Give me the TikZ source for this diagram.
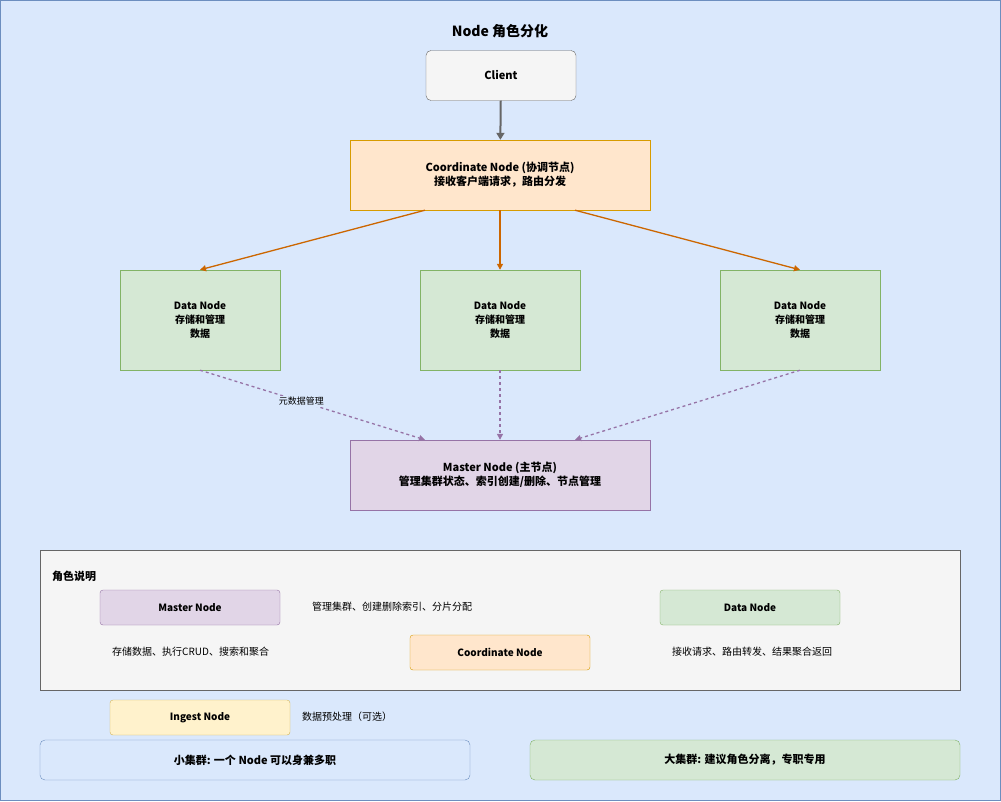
\documentclass[tikz,border=0pt]{standalone}
\usepackage{fontspec}
\setmainfont{Noto Sans CJK SC}
\usetikzlibrary{arrows.meta}
\begin{document}
\begin{tikzpicture}[x=1pt,y=-1pt,
 box/.style={draw,align=center,inner sep=0pt,font=\fontsize{11}{14}\selectfont\bfseries},
 lbl/.style={anchor=west,inner sep=0pt,font=\fontsize{10}{12}\selectfont},
 solidarr/.style={draw=orange!80!black,line width=1.3pt,-{Triangle[length=6pt,width=6pt]}},
 dasharr/.style={draw=purpleC,line width=1.3pt,dashed,-{Triangle[length=6pt,width=6pt]}}]
\definecolor{bgB}{HTML}{DAE8FC}\definecolor{bdB}{HTML}{6C8EBF}
\definecolor{fG}{HTML}{F5F5F5}\definecolor{bG}{HTML}{666666}
\definecolor{fO}{HTML}{FFE6CC}\definecolor{bO}{HTML}{D79B00}
\definecolor{fGr}{HTML}{D5E8D4}\definecolor{bGr}{HTML}{82B366}
\definecolor{fP}{HTML}{E1D5E7}\definecolor{purpleC}{HTML}{9673A6}
\definecolor{fY}{HTML}{FFF2CC}\definecolor{bY}{HTML}{D6B656}
\useasboundingbox (0,0) rectangle (1001,801);
\fill[bgB] (0,0) rectangle (1001,801);
\draw[bdB] (0.5,0.5) rectangle (1000.5,800.5);
\node[font=\fontsize{14}{16}\selectfont\bfseries] (title) at (500,31) {Node 角色分化};
\node[box,fill=fG,draw=bG,rounded corners=5pt,minimum width=150pt,minimum height=50pt] (client) at (501,75.5) {Client};
\node[box,fill=fO,draw=bO,minimum width=300pt,minimum height=70pt] (coord) at (500,175) {Coordinate Node (协调节点)\\接收客户端请求，路由分发};
\foreach \i/\x in {1/200,2/500,3/800}
 \node[box,fill=fGr,draw=bGr,minimum width=160pt,minimum height=100pt,font=\fontsize{10}{14}\selectfont\bfseries] (d\i) at (\x,320) {Data Node\\存储和管理\\数据};
\node[box,fill=fP,draw=purpleC,minimum width=300pt,minimum height=70pt] (master) at (500,475) {Master Node (主节点)\\管理集群状态、索引创建/删除、节点管理};
\draw[draw=bG,line width=2pt,-{Triangle[length=7pt,width=8pt]}] (client) -- (coord);
\draw[solidarr] (coord.south) ++(-75,0) coordinate (c1) -- (d1.north);
\draw[solidarr] (coord) -- (d2);
\draw[solidarr] (coord.south) ++(75,0) coordinate (c3) -- (d3.north);
\draw[dasharr] (d1.south) -- ([xshift=-75pt]master.north) node[pos=0.45,fill=bgB,inner sep=1pt,font=\fontsize{9}{10}\selectfont\itshape] {元数据管理};
\draw[dasharr] (d2) -- (master);
\draw[dasharr] (d3.south) -- ([xshift=75pt]master.north);
\draw[draw=bG,fill=fG] (40.5,550.5) rectangle (960.5,690.5);
\node[anchor=west,inner sep=0pt,font=\fontsize{11}{13}\selectfont\bfseries] (lt) at (52,576) {角色说明};
\tikzset{leg/.style={box,rounded corners=3pt,minimum width=180pt,minimum height=35pt,font=\fontsize{10}{12}\selectfont\bfseries}}
\node[leg,fill=fP,draw=purpleC] (lm) at (190,607.5) {Master Node};
\node[lbl] (lmt) at (312,607) {管理集群、创建删除索引、分片分配};
\node[leg,fill=fGr,draw=bGr] (ld) at (750,607.5) {Data Node};
\node[lbl] (ldt) at (112,652) {存储数据、执行CRUD、搜索和聚合};
\node[leg,fill=fO,draw=bO] (lc) at (500,652.5) {Coordinate Node};
\node[lbl] (lct) at (672,652) {接收请求、路由转发、结果聚合返回};
\node[leg,fill=fY,draw=bY] (li) at (200,717.5) {Ingest Node};
\node[lbl] (lit) at (302,717) {数据预处理（可选）};
\node[box,fill=bgB,draw=bdB,rounded corners=5pt,minimum width=430pt,minimum height=40pt] (small) at (255,760) {小集群: 一个 Node 可以身兼多职};
\node[box,fill=fGr,draw=bGr,rounded corners=5pt,minimum width=430pt,minimum height=40pt] (big) at (745,760) {大集群: 建议角色分离，专职专用};
\end{tikzpicture}
\end{document}
